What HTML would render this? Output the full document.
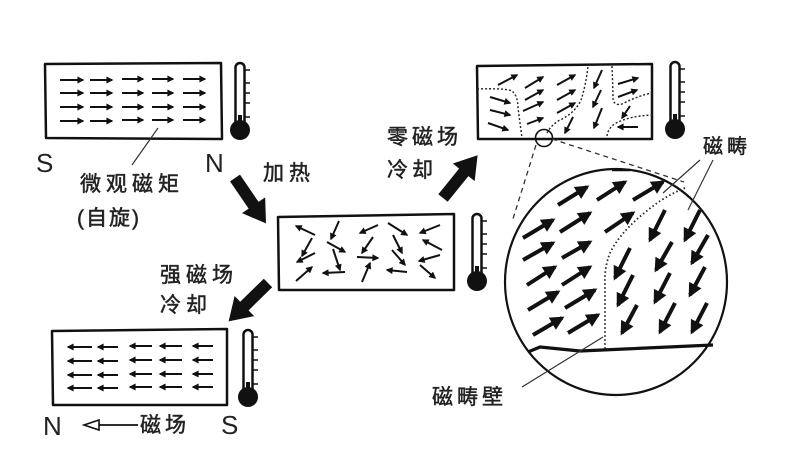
<!DOCTYPE html>
<html><head><meta charset="utf-8"><style>
html,body{margin:0;padding:0;background:#fff;}
svg{display:block;}
.t{font-family:"Liberation Sans","Noto Sans CJK SC",sans-serif;font-size:21px;fill:#222;stroke:#222;stroke-width:0.5;}
.l{font-family:"Liberation Sans",sans-serif;font-size:26px;fill:#222;}
</style></head><body>
<svg width="787" height="467" viewBox="0 0 787 467" xmlns="http://www.w3.org/2000/svg">
<defs>
<marker id="a" viewBox="0 0 10 10" refX="8" refY="5" markerWidth="9" markerHeight="7" markerUnits="userSpaceOnUse" orient="auto"><path d="M0,0 L10,5 L0,10 z" fill="#111"/></marker>
<marker id="b" viewBox="0 0 10 10" refX="8" refY="5" markerWidth="16" markerHeight="14" markerUnits="userSpaceOnUse" orient="auto"><path d="M0,0 L10,5 L0,10 z" fill="#111"/></marker>
<g id="therm">
<rect x="-4.5" y="0" width="9" height="70" rx="4.5" fill="#fff" stroke="#111" stroke-width="2.5"/>
<rect x="-2" y="52" width="4" height="14" fill="#111"/>
<circle cx="0" cy="67" r="10" fill="#111"/>
<g stroke="#111" stroke-width="1.5"><line x1="5" y1="7" x2="10" y2="7"/><line x1="5" y1="20" x2="10" y2="20"/><line x1="5" y1="30" x2="10" y2="30"/><line x1="5" y1="40" x2="10" y2="40"/><line x1="5" y1="54" x2="10" y2="54"/></g>
</g>
<path id="blk" d="M0,-6 L33,-6 L33,-14 L55,0 L33,14 L33,6 L0,6 z" fill="#111"/>
</defs>

<!-- ===== Top-left magnet ===== -->
<path d="M45,64 L221,63 L222,139 L46,138 z" fill="none" stroke="#111" stroke-width="2.5" stroke-linejoin="round"/>
<g stroke="#111" stroke-width="2" marker-end="url(#a)">
<line x1="60" y1="80" x2="83" y2="80"/><line x1="90" y1="80" x2="112" y2="80"/><line x1="122" y1="79" x2="143" y2="79"/><line x1="152" y1="79" x2="173" y2="79"/><line x1="183" y1="79" x2="205" y2="79"/>
<line x1="60" y1="93" x2="83" y2="93"/><line x1="90" y1="93" x2="112" y2="93"/><line x1="122" y1="93" x2="143" y2="93"/><line x1="152" y1="93" x2="173" y2="93"/><line x1="183" y1="93" x2="205" y2="93"/>
<line x1="60" y1="107" x2="83" y2="107"/><line x1="90" y1="107" x2="112" y2="107"/><line x1="122" y1="107" x2="143" y2="107"/><line x1="152" y1="107" x2="173" y2="107"/><line x1="183" y1="107" x2="205" y2="107"/>
<line x1="60" y1="121" x2="83" y2="121"/><line x1="90" y1="121" x2="112" y2="121"/><line x1="122" y1="120" x2="143" y2="120"/><line x1="152" y1="120" x2="173" y2="120"/><line x1="183" y1="120" x2="205" y2="120"/>
</g>
<use href="#therm" x="240" y="63"/>
<text class="l" x="36" y="172">S</text>
<text class="l" x="205" y="172">N</text>
<line x1="158" y1="128" x2="132" y2="165" stroke="#333" stroke-width="1.2"/>
<text class="t" x="80" y="191" letter-spacing="5">微观磁矩</text>
<text class="t" x="77" y="225" letter-spacing="2">(自旋)</text>

<!-- heating arrow -->
<use href="#blk" transform="translate(235,178) rotate(55.7)"/>
<text class="t" x="263" y="180" letter-spacing="5">加热</text>

<!-- ===== Middle magnet ===== -->
<path d="M278,217 L454,214 L454,290 L279,290 z" fill="none" stroke="#111" stroke-width="2.5" stroke-linejoin="round"/>
<g stroke="#111" stroke-width="2" marker-end="url(#a)">
<line x1="315" y1="235" x2="296" y2="226"/>
<line x1="339" y1="221" x2="331" y2="239"/>
<line x1="378" y1="225" x2="360" y2="233"/>
<line x1="388" y1="223" x2="407" y2="235"/>
<line x1="440" y1="225" x2="420" y2="233"/>
<line x1="312" y1="238" x2="302" y2="256"/>
<line x1="327" y1="242" x2="345" y2="252"/>
<line x1="373" y1="237" x2="362" y2="253"/>
<line x1="393" y1="235" x2="402" y2="253"/>
<line x1="442" y1="250" x2="423" y2="240"/>
<line x1="315" y1="253" x2="297" y2="262"/>
<line x1="333" y1="249" x2="340" y2="270"/>
<line x1="357" y1="257" x2="378" y2="258"/>
<line x1="392" y1="250" x2="405" y2="265"/>
<line x1="440" y1="255" x2="419" y2="261"/>
<line x1="296" y1="281" x2="312" y2="267"/>
<line x1="345" y1="272" x2="323" y2="273"/>
<line x1="362" y1="282" x2="370" y2="263"/>
<line x1="407" y1="272" x2="387" y2="270"/>
<line x1="420" y1="265" x2="435" y2="278"/>
</g>
<use href="#therm" x="477" y="214"/>

<!-- zero field arrow -->
<use href="#blk" transform="translate(443,198) rotate(-51)"/>
<text class="t" x="387" y="144" letter-spacing="4">零磁场</text>
<text class="t" x="387" y="177" letter-spacing="4">冷却</text>

<!-- strong field arrow -->
<use href="#blk" transform="translate(268,283) rotate(135.7)"/>
<text class="t" x="160" y="282" letter-spacing="5">强磁场</text>
<text class="t" x="160" y="312" letter-spacing="5">冷却</text>

<!-- ===== Bottom-left magnet ===== -->
<path d="M52,331 L227,329 L227,405 L53,405 z" fill="none" stroke="#111" stroke-width="2.5" stroke-linejoin="round"/>
<g stroke="#111" stroke-width="2" marker-end="url(#a)">
<line x1="92" y1="347" x2="68" y2="347"/><line x1="118" y1="347" x2="98" y2="347"/><line x1="152" y1="346" x2="130" y2="346"/><line x1="182" y1="346" x2="160" y2="346"/><line x1="213" y1="346" x2="193" y2="346"/>
<line x1="92" y1="361" x2="68" y2="361"/><line x1="118" y1="361" x2="98" y2="361"/><line x1="152" y1="360" x2="130" y2="360"/><line x1="182" y1="360" x2="160" y2="360"/><line x1="213" y1="360" x2="193" y2="360"/>
<line x1="92" y1="375" x2="68" y2="375"/><line x1="118" y1="375" x2="98" y2="375"/><line x1="152" y1="374" x2="130" y2="374"/><line x1="182" y1="374" x2="160" y2="374"/><line x1="213" y1="374" x2="193" y2="374"/>
<line x1="92" y1="388" x2="68" y2="388"/><line x1="118" y1="388" x2="98" y2="388"/><line x1="152" y1="387" x2="130" y2="387"/><line x1="182" y1="387" x2="160" y2="387"/><line x1="213" y1="387" x2="193" y2="387"/>
</g>
<use href="#therm" x="248" y="330"/>
<text class="l" x="43" y="435">N</text>
<text class="l" x="221" y="434">S</text>
<path d="M84,425 L99,420 L99,430 z" fill="#fff" stroke="#111" stroke-width="1.6"/>
<line x1="99" y1="425" x2="138" y2="425" stroke="#111" stroke-width="1.8"/>
<text class="t" x="140" y="432" letter-spacing="4">磁场</text>

<!-- ===== Top-right magnet ===== -->
<path d="M477,66 L652,64 L652,139 L478,139 z" fill="none" stroke="#111" stroke-width="2.5" stroke-linejoin="round"/>
<g fill="none" stroke="#222" stroke-width="1.4" stroke-dasharray="2,2">
<path d="M477,89 Q505,88 512,91 Q518,96 518,108 L522,138"/>
<path d="M547,133 Q552,124 560,120 Q575,113 581,100 Q586,85 588,66"/>
<path d="M612,66 Q613,90 613,100 Q615,106 622,104 Q640,95 652,93"/>
<path d="M607,136 Q608,128 616,123 Q630,116 652,115"/>
</g>
<g stroke="#111" stroke-width="2" marker-end="url(#a)">
<line x1="490" y1="97" x2="510" y2="103"/>
<line x1="490" y1="110" x2="510" y2="115"/>
<line x1="488" y1="123" x2="508" y2="130"/>
<line x1="498" y1="85" x2="517" y2="75"/>
<line x1="525" y1="88" x2="543" y2="77"/>
<line x1="557" y1="85" x2="575" y2="75"/>
<line x1="525" y1="100" x2="543" y2="90"/>
<line x1="523" y1="111" x2="543" y2="102"/>
<line x1="527" y1="124" x2="543" y2="118"/>
<line x1="557" y1="100" x2="575" y2="90"/>
<line x1="557" y1="113" x2="575" y2="103"/>
<line x1="602" y1="70" x2="594" y2="88"/>
<line x1="601" y1="90" x2="593" y2="107"/>
<line x1="602" y1="108" x2="594" y2="128"/>
<line x1="573" y1="117" x2="565" y2="133"/>
<line x1="618" y1="84" x2="638" y2="78"/>
<line x1="618" y1="97" x2="637" y2="90"/>
<line x1="630" y1="106" x2="622" y2="118"/>
<line x1="638" y1="127" x2="618" y2="127"/>
</g>
<use href="#therm" x="675" y="62"/>
<circle cx="544" cy="138" r="8.5" fill="none" stroke="#111" stroke-width="1.6"/>

<!-- dashed zoom lines -->
<g stroke="#333" stroke-width="1.3" stroke-dasharray="5,4" fill="none">
<line x1="536" y1="145" x2="512" y2="222"/>
<line x1="552" y1="139" x2="684" y2="182"/>
</g>

<!-- ===== Big circle ===== -->
<ellipse cx="616" cy="282" rx="111" ry="113" fill="none" stroke="#111" stroke-width="2.2"/>
<path d="M612,170 L630,170" stroke="#111" stroke-width="2.5"/>
<path d="M528,352 L540,347 L580,351 L713,345" fill="none" stroke="#111" stroke-width="3.2" stroke-linejoin="round"/>
<path d="M685,188 Q665,196 648,210 Q620,232 610,253 Q604,268 605,285 L605,350" fill="none" stroke="#222" stroke-width="1.8" stroke-dasharray="1.5,2.5"/>
<g stroke="#111" stroke-width="4" marker-end="url(#b)">
<line x1="558" y1="205" x2="587" y2="187"/>
<line x1="597" y1="200" x2="625" y2="182"/>
<line x1="633" y1="200" x2="663" y2="182"/>
<line x1="523" y1="238" x2="553" y2="220"/>
<line x1="560" y1="232" x2="590" y2="213"/>
<line x1="605" y1="232" x2="633" y2="213"/>
<line x1="523" y1="260" x2="553" y2="243"/>
<line x1="562" y1="258" x2="590" y2="242"/>
<line x1="527" y1="285" x2="555" y2="267"/>
<line x1="562" y1="285" x2="590" y2="267"/>
<line x1="528" y1="310" x2="558" y2="292"/>
<line x1="565" y1="308" x2="595" y2="290"/>
<line x1="533" y1="335" x2="562" y2="318"/>
<line x1="568" y1="333" x2="598" y2="315"/>
<line x1="665" y1="210" x2="650" y2="240"/>
<line x1="700" y1="210" x2="685" y2="240"/>
<line x1="630" y1="248" x2="615" y2="278"/>
<line x1="672" y1="242" x2="656" y2="270"/>
<line x1="708" y1="235" x2="692" y2="263"/>
<line x1="633" y1="275" x2="618" y2="305"/>
<line x1="670" y1="273" x2="655" y2="302"/>
<line x1="705" y1="267" x2="690" y2="295"/>
<line x1="637" y1="305" x2="622" y2="333"/>
<line x1="675" y1="303" x2="660" y2="332"/>
<line x1="707" y1="303" x2="692" y2="332"/>
</g>

<!-- labels for circle -->
<g stroke="#333" stroke-width="1.2">
<line x1="700" y1="160" x2="663" y2="193"/>
<line x1="713" y1="160" x2="688" y2="210"/>
<line x1="522" y1="387" x2="603" y2="337"/>
</g>
<text class="t" x="703" y="153" style="font-size:20px" letter-spacing="4">磁畴</text>
<text class="t" x="432" y="404" letter-spacing="4">磁畴壁</text>
</svg>
</body></html>
